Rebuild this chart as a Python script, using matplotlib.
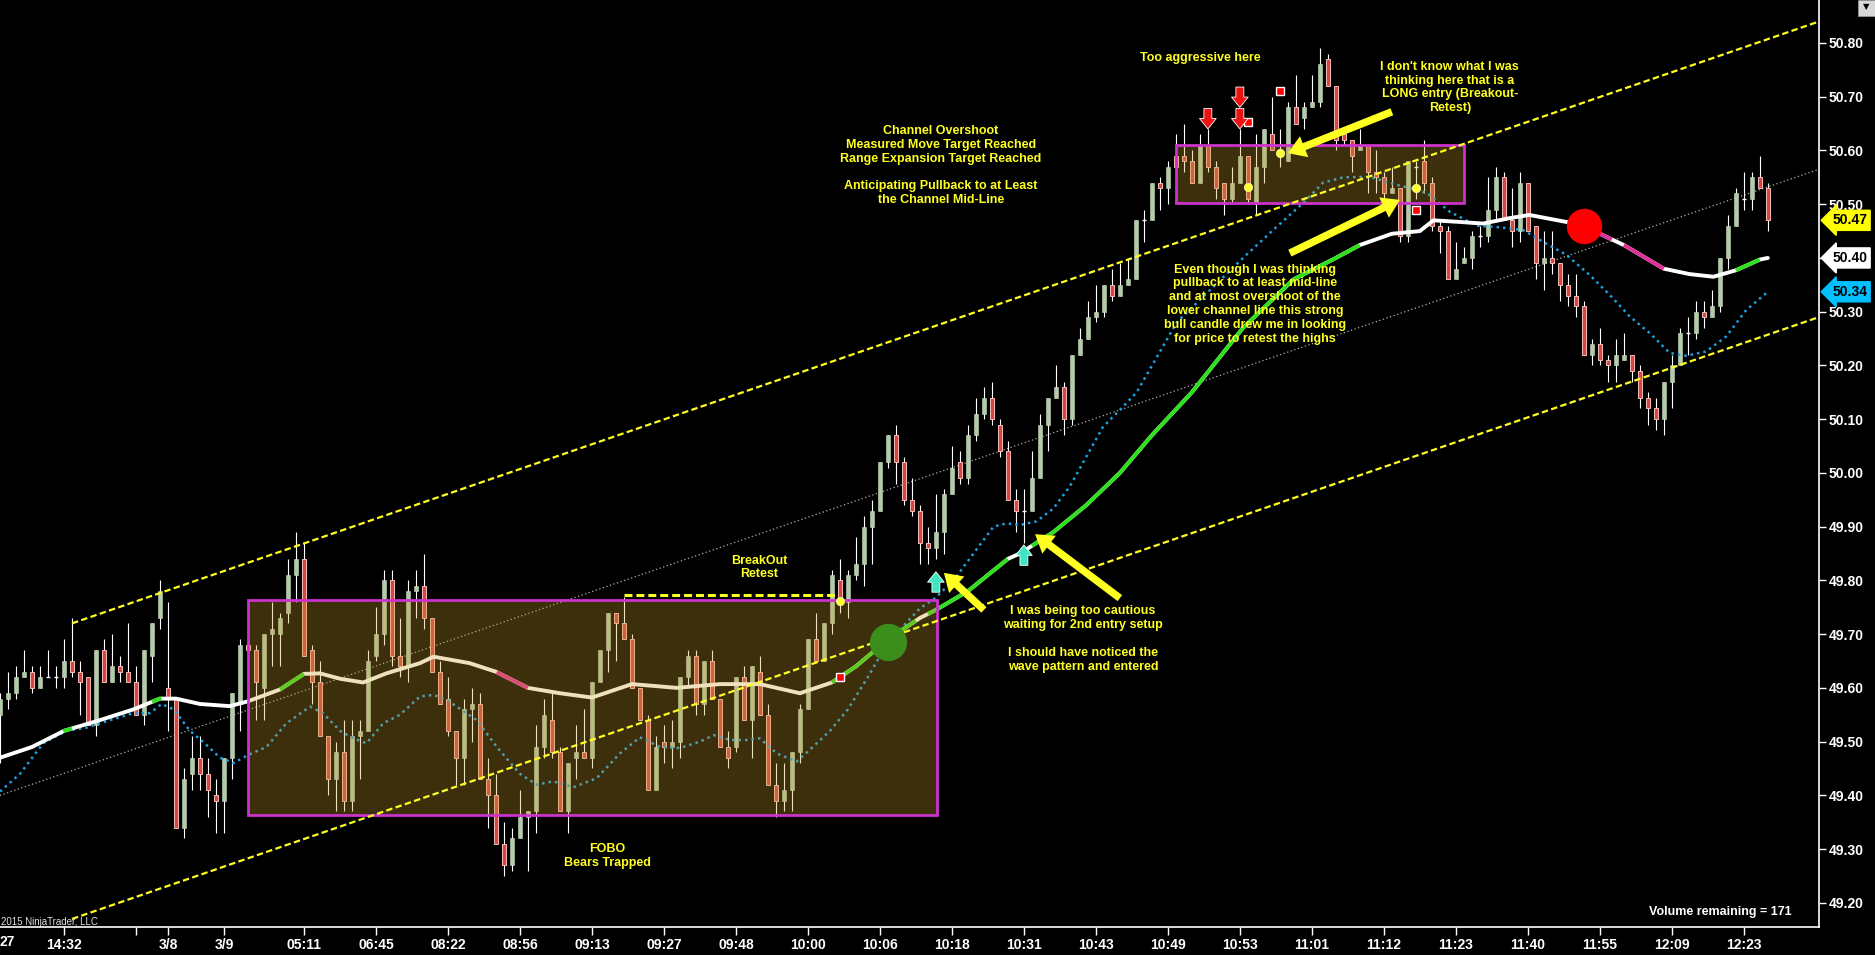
import numpy as np
import matplotlib
matplotlib.use("Agg")
from matplotlib import pyplot as plt
from matplotlib.patches import Rectangle
import matplotlib.transforms as mtransforms

plt.rcParams['font.family'] = ['Liberation Sans', 'DejaVu Sans']
plt.rcParams['font.weight'] = 'bold'

# ---- price bars (one per x position) ----
opens = [49.55, 49.58, 49.59, 49.62, 49.63, 49.60, 49.62, 49.62, 49.62, 49.65,
         49.63, 49.62, 49.53, 49.67, 49.61, 49.64, 49.63, 49.61, 49.55, 49.66,
         49.73, 49.60, 49.58, 49.34, 49.44, 49.47, 49.44, 49.40, 49.39, 49.47,
         49.57, 49.68, 49.67, 49.60, 49.70, 49.70, 49.74, 49.81, 49.84, 49.67,
         49.61, 49.51, 49.43, 49.48, 49.39, 49.51, 49.52, 49.66, 49.70, 49.80,
         49.66, 49.64, 49.78, 49.79, 49.73, 49.63, 49.58, 49.52, 49.47, 49.56,
         49.57, 49.43, 49.40, 49.31, 49.27, 49.32, 49.36, 49.37, 49.49, 49.54,
         49.48, 49.37, 49.47, 49.48, 49.47, 49.61, 49.67, 49.74, 49.72, 49.69,
         49.60, 49.54, 49.41, 49.50, 49.49, 49.50, 49.62, 49.66, 49.57, 49.65,
         49.58, 49.49, 49.49, 49.62, 49.54, 49.63, 49.55, 49.42, 49.39, 49.41,
         49.48, 49.56, 49.69, 49.65, 49.72, 49.80, 49.76, 49.81, 49.83, 49.90,
         49.93, 50.02, 50.07, 50.02, 49.95, 49.93, 49.87, 49.86, 49.89, 49.96,
         50.02, 49.99, 50.07, 50.11, 50.14, 50.09, 50.04, 49.95, 49.93, 49.93,
         49.99, 50.09, 50.14, 50.16, 50.10, 50.22, 50.25, 50.29, 50.30, 50.35,
         50.33, 50.35, 50.36, 50.47, 50.47, 50.54, 50.53, 50.59, 50.59, 50.58,
         50.54, 50.61, 50.57, 50.54, 50.51, 50.54, 50.59, 50.50, 50.57, 50.63,
         50.60, 50.58, 50.68, 50.66, 50.68, 50.69, 50.77, 50.72, 50.63, 50.62,
         50.60, 50.61, 50.56, 50.55, 50.52, 50.53, 50.44, 50.57, 50.58, 50.54,
         50.46, 50.45, 50.36, 50.39, 50.40, 50.44, 50.44, 50.49, 50.55, 50.47,
         50.45, 50.54, 50.46, 50.39, 50.40, 50.39, 50.35, 50.33, 50.31, 50.22,
         50.24, 50.21, 50.20, 50.21, 50.22, 50.19, 50.14, 50.12, 50.10, 50.17,
         50.20, 50.26, 50.26, 50.30, 50.29, 50.31, 50.40, 50.46, 50.51, 50.51,
         50.55, 50.53]
highs = [49.59, 49.63, 49.64, 49.67, 49.64, 49.64, 49.67, 49.64, 49.69, 49.73,
         49.65, 49.62, 49.67, 49.69, 49.70, 49.66, 49.72, 49.64, 49.67, 49.72,
         49.80, 49.76, 49.58, 49.45, 49.51, 49.51, 49.47, 49.43, 49.47, 49.59,
         49.69, 49.69, 49.68, 49.70, 49.76, 49.74, 49.84, 49.89, 49.87, 49.68,
         49.65, 49.51, 49.50, 49.54, 49.54, 49.54, 49.67, 49.75, 49.82, 49.82,
         49.73, 49.80, 49.82, 49.85, 49.73, 49.65, 49.62, 49.52, 49.58, 49.60,
         49.59, 49.47, 49.44, 49.35, 49.34, 49.41, 49.37, 49.53, 49.58, 49.59,
         49.49, 49.46, 49.53, 49.56, 49.61, 49.67, 49.74, 49.74, 49.77, 49.70,
         49.60, 49.55, 49.51, 49.53, 49.54, 49.62, 49.67, 49.67, 49.65, 49.67,
         49.58, 49.52, 49.62, 49.64, 49.64, 49.66, 49.57, 49.46, 49.46, 49.48,
         49.57, 49.69, 49.74, 49.72, 49.82, 49.84, 49.82, 49.88, 49.92, 49.95,
         50.02, 50.07, 50.09, 50.03, 49.99, 49.94, 49.90, 49.96, 49.97, 50.05,
         50.04, 50.09, 50.14, 50.16, 50.17, 50.10, 50.06, 49.97, 49.97, 50.04,
         50.11, 50.14, 50.20, 50.17, 50.22, 50.27, 50.32, 50.35, 50.35, 50.38,
         50.39, 50.40, 50.47, 50.49, 50.54, 50.55, 50.58, 50.63, 50.65, 50.60,
         50.63, 50.64, 50.58, 50.54, 50.57, 50.64, 50.59, 50.63, 50.64, 50.70,
         50.64, 50.69, 50.74, 50.69, 50.74, 50.79, 50.78, 50.72, 50.64, 50.62,
         50.64, 50.61, 50.60, 50.56, 50.57, 50.53, 50.58, 50.58, 50.62, 50.55,
         50.47, 50.46, 50.43, 50.42, 50.45, 50.46, 50.55, 50.57, 50.56, 50.53,
         50.56, 50.54, 50.46, 50.45, 50.45, 50.39, 50.37, 50.37, 50.32, 50.25,
         50.27, 50.22, 50.25, 50.26, 50.22, 50.20, 50.15, 50.14, 50.17, 50.22,
         50.27, 50.29, 50.32, 50.32, 50.34, 50.40, 50.48, 50.53, 50.56, 50.56,
         50.59, 50.54]
lows = [49.46, 49.56, 49.58, 49.62, 49.59, 49.60, 49.62, 49.60, 49.60, 49.62,
        49.55, 49.53, 49.51, 49.61, 49.61, 49.61, 49.61, 49.55, 49.53, 49.61,
        49.71, 49.52, 49.34, 49.32, 49.41, 49.41, 49.36, 49.33, 49.33, 49.43,
        49.52, 49.66, 49.54, 49.54, 49.64, 49.64, 49.72, 49.76, 49.66, 49.57,
        49.51, 49.40, 49.37, 49.37, 49.37, 49.43, 49.52, 49.65, 49.68, 49.64,
        49.62, 49.61, 49.73, 49.71, 49.63, 49.57, 49.51, 49.42, 49.42, 49.50,
        49.43, 49.34, 49.31, 49.25, 49.26, 49.32, 49.26, 49.33, 49.47, 49.47,
        49.37, 49.33, 49.43, 49.47, 49.45, 49.61, 49.63, 49.65, 49.69, 49.60,
        49.54, 49.41, 49.41, 49.46, 49.45, 49.47, 49.60, 49.55, 49.55, 49.58,
        49.49, 49.45, 49.48, 49.54, 49.47, 49.55, 49.42, 49.36, 49.37, 49.37,
        49.46, 49.56, 49.65, 49.65, 49.70, 49.74, 49.73, 49.80, 49.79, 49.83,
        49.93, 50.01, 49.98, 49.94, 49.92, 49.83, 49.83, 49.84, 49.85, 49.96,
        49.98, 49.98, 50.06, 50.10, 50.09, 50.03, 49.95, 49.89, 49.87, 49.93,
        49.99, 50.04, 50.14, 50.07, 50.09, 50.22, 50.25, 50.28, 50.29, 50.32,
        50.33, 50.35, 50.36, 50.43, 50.47, 50.49, 50.50, 50.56, 50.56, 50.54,
        50.54, 50.56, 50.51, 50.48, 50.50, 50.54, 50.50, 50.48, 50.54, 50.60,
        50.57, 50.58, 50.65, 50.64, 50.68, 50.68, 50.72, 50.60, 50.61, 50.56,
        50.60, 50.52, 50.52, 50.51, 50.52, 50.43, 50.43, 50.51, 50.52, 50.45,
        50.41, 50.36, 50.36, 50.39, 50.38, 50.42, 50.43, 50.47, 50.47, 50.42,
        50.43, 50.45, 50.36, 50.34, 50.37, 50.32, 50.31, 50.29, 50.22, 50.20,
        50.20, 50.17, 50.17, 50.21, 50.17, 50.12, 50.09, 50.08, 50.07, 50.12,
        50.20, 50.22, 50.25, 50.27, 50.29, 50.30, 50.38, 50.46, 50.49, 50.49,
        50.53, 50.45]
closes = [49.58, 49.59, 49.62, 49.63, 49.60, 49.62, 49.62, 49.62, 49.65, 49.63,
          49.61, 49.53, 49.67, 49.61, 49.64, 49.63, 49.61, 49.55, 49.67, 49.72,
          49.78, 49.58, 49.34, 49.43, 49.47, 49.44, 49.41, 49.39, 49.47, 49.59,
          49.68, 49.67, 49.61, 49.70, 49.71, 49.73, 49.81, 49.84, 49.66, 49.61,
          49.51, 49.43, 49.48, 49.39, 49.51, 49.52, 49.65, 49.70, 49.80, 49.66,
          49.64, 49.78, 49.79, 49.73, 49.63, 49.57, 49.52, 49.47, 49.56, 49.57,
          49.43, 49.40, 49.31, 49.27, 49.32, 49.36, 49.37, 49.49, 49.55, 49.48,
          49.37, 49.46, 49.48, 49.47, 49.61, 49.67, 49.74, 49.72, 49.69, 49.60,
          49.54, 49.41, 49.49, 49.49, 49.50, 49.62, 49.66, 49.57, 49.65, 49.58,
          49.49, 49.47, 49.62, 49.54, 49.64, 49.55, 49.42, 49.39, 49.41, 49.48,
          49.56, 49.69, 49.65, 49.72, 49.81, 49.76, 49.81, 49.83, 49.90, 49.93,
          50.02, 50.07, 50.02, 49.95, 49.93, 49.87, 49.86, 49.89, 49.96, 50.01,
          49.99, 50.07, 50.11, 50.14, 50.10, 50.04, 49.95, 49.93, 49.93, 49.99,
          50.09, 50.14, 50.16, 50.10, 50.22, 50.25, 50.29, 50.30, 50.35, 50.33,
          50.35, 50.36, 50.47, 50.47, 50.54, 50.53, 50.57, 50.57, 50.58, 50.54,
          50.61, 50.57, 50.53, 50.51, 50.54, 50.59, 50.51, 50.57, 50.64, 50.60,
          50.60, 50.68, 50.65, 50.68, 50.69, 50.76, 50.72, 50.62, 50.62, 50.59,
          50.61, 50.56, 50.55, 50.52, 50.53, 50.44, 50.58, 50.57, 50.54, 50.46,
          50.45, 50.36, 50.38, 50.40, 50.44, 50.44, 50.49, 50.55, 50.47, 50.45,
          50.54, 50.45, 50.39, 50.40, 50.39, 50.35, 50.33, 50.31, 50.22, 50.24,
          50.21, 50.20, 50.22, 50.22, 50.19, 50.14, 50.12, 50.10, 50.17, 50.20,
          50.26, 50.26, 50.30, 50.29, 50.31, 50.40, 50.46, 50.52, 50.51, 50.55,
          50.53, 50.47]

# slow moving average (thick line), read at key bars
ma_bars = [0, 4, 8, 12.5, 16.7, 20, 22, 25, 28.7, 31, 35, 38, 40, 42.5, 45.4,
           48.3, 52.5, 54.2, 58.7, 62, 66, 70, 74, 79, 84.6, 90, 95, 100, 104,
           107, 111, 115, 117, 121, 126, 127.5, 131.7, 135.8, 140, 144, 149,
           155.4, 161.7, 167, 170, 174, 177.5, 179.2, 182.5, 185.4, 188.7,
           191.2, 195.8, 198, 200, 203, 208, 211.2, 214.2, 217, 220, 221]
ma_vals = [49.47, 49.49, 49.52, 49.54, 49.56, 49.58, 49.58, 49.57, 49.566,
           49.575, 49.597, 49.626, 49.627, 49.617, 49.61, 49.627, 49.646,
           49.658, 49.646, 49.63, 49.60, 49.59, 49.582, 49.607, 49.60, 49.607,
           49.607, 49.59, 49.61, 49.64, 49.69, 49.73, 49.745, 49.78, 49.84,
           49.85, 49.89, 49.94, 50.00, 50.07, 50.15, 50.27, 50.36, 50.40,
           50.424, 50.445, 50.45, 50.47, 50.467, 50.464, 50.474, 50.48, 50.467,
           50.46, 50.445, 50.424, 50.38, 50.37, 50.365, 50.377, 50.397, 50.40]
# slope colouring of the slow average: (from bar, to bar)
ma_rising = [(7.9, 9.0), (19.0, 20.2), (35.0, 38.0), (104.0, 114.5),
             (116.0, 126.0), (129.0, 170.0), (217.0, 220.0)]
ma_falling = [(62.1, 66.0), (199.5, 201.5), (203.0, 208.0)]

# fast average (blue dotted)
fast_bars = [0, 2.5, 5.4, 8.3, 10.8, 13.75, 16.7, 18.75, 20.2, 21.7, 23.75,
             25.8, 27.5, 29.2, 31, 33.3, 35.8, 38.75, 40.4, 42.5, 44.2, 45.8,
             47.9, 50, 52.5, 54.2, 55.8, 59.6, 62.1, 65, 67.1, 69.2, 71.7,
             74.6, 77.5, 80, 82.5, 85, 87.5, 89.2, 91.25, 93.3, 95, 97.1, 99.6,
             101.25, 103.75, 106, 108.5, 110.8, 112.5, 115, 116.9, 119.2,
             121.7, 124.2, 125.8, 127.5, 129.6, 131.7, 133.75, 135.8, 137.9,
             140, 142.1, 147.1, 151.25, 155.4, 159.6, 162.9, 165.4, 167.9,
             171.25, 174.6, 177.5, 178.75, 181.25, 184.6, 187.5, 190.4, 192.9,
             195.8, 198.75, 201.25, 203.75, 206.25, 208.75, 210.8, 213.3,
             215.8, 218.3, 221]
fast_vals = [49.407, 49.44, 49.497, 49.52, 49.526, 49.54, 49.553, 49.553,
             49.57, 49.56, 49.52, 49.494, 49.47, 49.46, 49.475, 49.49, 49.534,
             49.565, 49.553, 49.52, 49.506, 49.497, 49.534, 49.55, 49.584,
             49.587, 49.578, 49.54, 49.49, 49.44, 49.42, 49.426, 49.415,
             49.432, 49.478, 49.508, 49.49, 49.488, 49.50, 49.512, 49.503,
             49.503, 49.506, 49.478, 49.463, 49.485, 49.52, 49.56, 49.62,
             49.68, 49.708, 49.748, 49.767, 49.80, 49.85, 49.90, 49.906,
             49.903, 49.91, 49.934, 49.975, 50.03, 50.086, 50.117, 50.15,
             50.28, 50.34, 50.40, 50.458, 50.502, 50.54, 50.55, 50.551, 50.536,
             50.526, 50.517, 50.486, 50.46, 50.457, 50.452, 50.43, 50.406,
             50.368, 50.331, 50.291, 50.26, 50.223, 50.218, 50.226, 50.254,
             50.303, 50.337]

# regression channel
chan_bars = [9, 227.4]
chan_upper = [49.72, 50.84]
chan_lower = [49.17, 50.29]
mid_bars = [0, 227.4]
chan_mid = [49.40, 50.565]

# x axis labels
tick_bars = [8, 17, 21, 28, 38, 47, 56, 65, 74, 83, 92, 101, 110, 119, 128,
             137, 146, 155, 164, 173, 182, 191, 200, 209, 218]
tick_labels = ['14:32', '', '3/8', '3/9', '05:11', '06:45', '08:22', '08:56',
               '09:13', '09:27', '09:48', '10:00', '10:06', '10:18', '10:31',
               '10:43', '10:49', '10:53', '11:01', '11:12', '11:23', '11:40',
               '11:55', '12:09', '12:23']

# drawing-tool markers
yellow_dots = [(105, 49.761), (156, 50.532), (160, 50.595), (177, 50.53)]
red_squares = [(105, 49.62), (156, 50.653), (160, 50.71), (177, 50.49)]
sell_arrows = [(151, 50.64), (155, 50.68), (155, 50.64)]
buy_arrows = [(117, 49.816), (128, 49.866)]

YEL = '#FFFF22'

fig = plt.figure(figsize=(18.75, 9.55), dpi=100, facecolor='black')
ax = fig.add_axes([0, 28 / 955, 1819 / 1875, 927 / 955])
ax.set_facecolor('black')

o = np.array(opens)
h = np.array(highs)
l = np.array(lows)
c = np.array(closes)
x = np.arange(len(o))
up = c > o
dn = c < o
flat = c == o

# candles
ax.vlines(x, l, h, color='white', lw=0.8, zorder=2)
ax.bar(x[up], (c - o)[up], bottom=o[up], width=0.45, color='#B3CBA8',
       edgecolor='#C8DCC0', lw=0.4, zorder=3)
ax.bar(x[dn], (o - c)[dn], bottom=c[dn], width=0.45, color='#D94545',
       edgecolor='#F4BDB4', lw=0.7, zorder=3)
ax.hlines(o[flat], x[flat] - 0.28, x[flat] + 0.28, color='white', lw=1.0, zorder=3)

# channel mid line
ax.plot(mid_bars, chan_mid, color='#B0B0B0', lw=0.9, ls=(0, (1, 2)), zorder=1.5)

# fast average
ax.plot(fast_bars, fast_vals, color='#1E9FE0', lw=1.8, ls=(0, (1, 1.6)),
        zorder=3.5)

# slow average with slope colouring
ax.plot(ma_bars, ma_vals, color='white', lw=2.8, zorder=4,
        solid_capstyle='round', solid_joinstyle='round')
for segs, col in [(ma_rising, '#2EE01E'), (ma_falling, '#E0309A')]:
    for a, b in segs:
        sx = [a] + [v for v in ma_bars if a < v < b] + [b]
        sy = np.interp(sx, ma_bars, ma_vals)
        ax.plot(sx, sy, color=col, lw=2.8, zorder=4.1, solid_capstyle='butt')

# rectangles (drawn over the price, semi transparent)
for x0, x1, y0, y1 in [(31, 117.1, 49.364, 49.764), (147, 183, 50.503, 50.61)]:
    ax.add_patch(Rectangle((x0, y0), x1 - x0, y1 - y0, facecolor='#CB9D28',
                           alpha=0.3, edgecolor='none', zorder=5))
    ax.add_patch(Rectangle((x0, y0), x1 - x0, y1 - y0, facecolor='none',
                           edgecolor='#CC33CC', lw=2, zorder=6))

# channel lines
ax.plot(chan_bars, chan_upper, color=YEL, lw=1.6, ls=(0, (2.9, 1.5)), zorder=6)
ax.plot(chan_bars, chan_lower, color=YEL, lw=1.6, ls=(0, (2.9, 1.5)), zorder=6)

# breakout level
ax.plot([78, 104.5], [49.772, 49.772], color=YEL, lw=2.2, ls=(0, (2.6, 1.3)),
        zorder=6)

# big circles
ax.scatter([111], [49.686], s=720, color='#3C8E1C', zorder=7, lw=0)
ax.scatter([198], [50.46], s=650, color='#FF0000', zorder=7, lw=0)

# small markers
ax.plot([p[0] for p in red_squares], [p[1] for p in red_squares], 's', ms=6,
        mfc='#FF0000', mec='white', mew=1, zorder=8)
ax.plot([p[0] for p in yellow_dots], [p[1] for p in yellow_dots], 'o', ms=6,
        mfc='#FFFF33', mec='#FFFF99', mew=0.5, zorder=8)
for bx, tip in sell_arrows:
    ax.annotate('', xy=(bx, tip), xytext=(bx, tip + 0.038),
                arrowprops=dict(arrowstyle='simple,head_length=0.5,head_width=0.8,tail_width=0.38',
                                fc='#EE1111', ec='white', lw=0.6, mutation_scale=15,
                                shrinkA=0, shrinkB=0), zorder=8)
for bx, tip in buy_arrows:
    ax.annotate('', xy=(bx, tip), xytext=(bx, tip - 0.038),
                arrowprops=dict(arrowstyle='simple,head_length=0.5,head_width=0.8,tail_width=0.38',
                                fc='#40E6C4', ec='white', lw=0.6, mutation_scale=15,
                                shrinkA=0, shrinkB=0), zorder=8)

# yellow callout arrows
for tail, head in [((174, 50.672), (161, 50.595)),
                   ((161.25, 50.409), (175, 50.508)),
                   ((123, 49.745), (118, 49.814)),
                   ((140, 49.767), (129.4, 49.886))]:
    ax.annotate('', xy=head, xytext=tail,
                arrowprops=dict(arrowstyle='simple,head_length=0.7,head_width=0.9,tail_width=0.3',
                                fc=YEL, ec=YEL, lw=0, mutation_scale=18,
                                shrinkA=0, shrinkB=0), zorder=9)

# notes
note_kw = dict(color=YEL, fontsize=9, fontweight='bold', ha='center',
               va='center', linespacing=1.2, zorder=9)
ax.text(150, 50.772, 'Too aggressive here', **note_kw)
ax.text(181.25, 50.717, "I don't know what I was\nthinking here that is a\n"
        "LONG entry (Breakout-\nRetest)", **note_kw)
ax.text(117.6, 50.572, 'Channel Overshoot\nMeasured Move Target Reached\n'
        'Range Expansion Target Reached\n\nAnticipating Pullback to at Least\n'
        'the Channel Mid-Line', **note_kw)
ax.text(156.9, 50.314, 'Even though I was thinking\npullback to at least mid-line\n'
        'and at most overshoot of the\nlower channel line this strong\n'
        'bull candle drew me in looking\nfor price to retest the highs', **note_kw)
ax.text(94.9, 49.824, 'BreakOut\nRetest', **note_kw)
ax.text(75.9, 49.287, 'FOBO\nBears Trapped', **note_kw)
ax.text(135.4, 49.691, 'I was being too cautious\nwaiting for 2nd entry setup\n\n'
        'I should have noticed the\nwave pattern and entered', **note_kw)

ax.text(1792 / 1819, 15 / 927, 'Volume remaining = 171', transform=ax.transAxes,
        color='white', fontsize=9, fontweight='bold', ha='right', va='center')

# axes
ax.set_xlim(0, 227.4)
ax.set_ylim(49.155, 50.88)
ax.yaxis.tick_right()
ax.set_yticks(np.round(np.arange(49.2, 50.81, 0.1), 2))
ax.set_yticklabels([f'{v:.2f}' for v in np.arange(49.2, 50.81, 0.1)])
ax.set_xticks(tick_bars)
ax.set_xticklabels(tick_labels)
ax.tick_params(axis='both', colors='white', labelsize=10, width=1)
ax.tick_params(axis='y', length=5, pad=2)
ax.tick_params(axis='x', length=6, pad=2)
for s in ['top', 'left']:
    ax.spines[s].set_visible(False)
for s in ['right', 'bottom']:
    ax.spines[s].set_color('white')
    ax.spines[s].set_linewidth(1.2)

# last value flags on the price axis
trans = mtransforms.blended_transform_factory(ax.transAxes, ax.transData)
for val, col in [(closes[-1], '#FFFF00'), (ma_vals[-1], 'white'),
                 (fast_vals[-1], '#00BFFF')]:
    ax.text(1.0072, val, f'{val:.2f}', transform=trans, ha='left', va='center',
            fontsize=10, fontweight='bold', color='black', clip_on=False,
            zorder=10, bbox=dict(boxstyle='larrow,pad=0.22', fc=col, ec=col))

fig.text(0.0, 13 / 955, '27', color='white', fontsize=10, fontweight='bold',
         ha='left', va='center')
fig.text(0.0005, 33 / 955, '2015 NinjaTrader, LLC', color='#DDDDDD',
         fontsize=7, fontweight='normal', ha='left', va='center')
fig.patches.append(Rectangle((1858 / 1875, 1 - 16 / 955), 17 / 1875, 16 / 955,
                             transform=fig.transFigure, facecolor='#D8D8D8',
                             edgecolor='#A0A0A0', lw=0.5, figure=fig))
fig.text(1866 / 1875, 1 - 7 / 955, '\u25BC', color='black', fontsize=6,
         ha='center', va='center', family='DejaVu Sans')

fig.savefig('out.png', dpi=100, facecolor='black')
